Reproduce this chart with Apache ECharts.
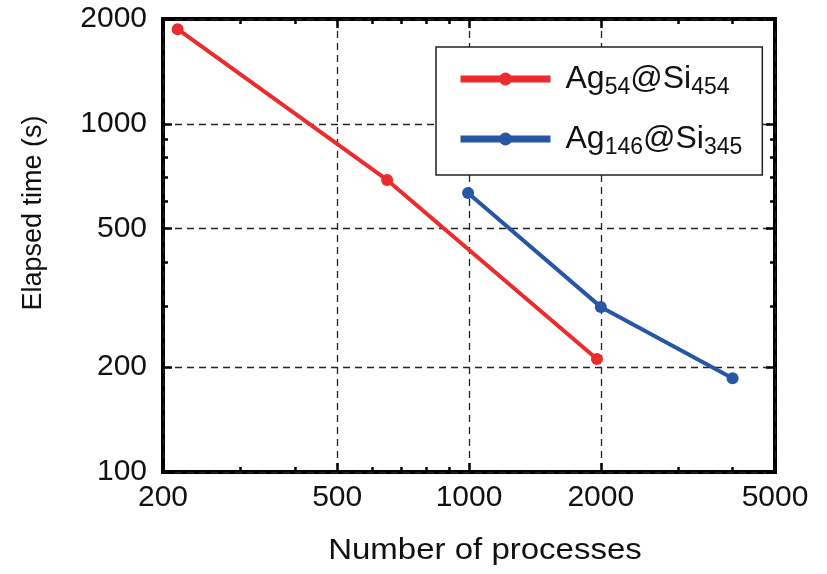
<!DOCTYPE html>
<html>
<head>
<meta charset="utf-8">
<script src="https://cdn.jsdelivr.net/npm/echarts@6/dist/echarts.min.js"></script>
<style>
  html, body { margin: 0; padding: 0; background: #fff; }
  #chart { width: 827px; height: 574px; }
</style>
</head>
<body>
<div id="chart"></div>
<script>
// 数据：横轴为进程数，纵轴为耗时(s)
var procsAg54 = [216, 650, 1960];
var timeAg54 = [1870, 690, 211];
var procsAg146 = [995, 2000, 4000];
var timeAg146 = [633, 298, 186];

// 刻度
var xMajor = [200, 500, 1000, 2000, 5000];
var xMinor = [300, 400, 600, 700, 800, 900, 3000, 4000];
var yMajor = [100, 200, 500, 1000, 2000];
var yMinor = [300, 400, 600, 700, 800, 900];

var RED = '#ec2b2e';
var BLUE = '#2756a5';
var FONT = '"Liberation Sans", Arial, sans-serif';

function pairs(xs, ys) {
    var out = [];
    for (var i = 0; i < xs.length; i++) {
        out.push([xs[i], ys[i]]);
    }
    return out;
}

// 生成一根对数轴；major为true时带标签和网格线
function logAxis(min, max, pos, ticks, major, showLabel) {
    return {
        type: 'log',
        logBase: 10,
        min: min,
        max: max,
        position: pos,
        axisLine: { show: false },
        axisTick: {
            show: true,
            inside: true,
            length: major ? 9 : 5,
            customValues: ticks,
            lineStyle: { color: '#000', width: 2.5 }
        },
        axisLabel: {
            show: showLabel,
            customValues: ticks,
            color: '#111',
            fontFamily: FONT,
            fontSize: 30,
            margin: pos === 'bottom' ? 11 : 16,
            formatter: function(v) { return String(Math.round(v)); }
        },
        splitLine: {
            show: major && showLabel,
            lineStyle: { color: '#222', type: [7, 5], width: 1.3 }
        },
        minorTick: { show: false },
        minorSplitLine: { show: false }
    };
}

var richLegend = {
    a: { fontSize: 32, fontFamily: FONT, color: '#111' },
    s: { fontSize: 23, fontFamily: FONT, color: '#111', padding: [17, 0, 0, 0] }
};

var myChart = echarts.init(document.getElementById('chart'));
var option = {
    animation: false,
    grid: {
        left: 163,
        right: 52,
        top: 19,
        bottom: 102,
        show: true,
        borderColor: '#000',
        borderWidth: 4,
        backgroundColor: 'transparent'
    },
    xAxis: [
        logAxis(200, 5000, 'bottom', xMajor, true, true),
        logAxis(200, 5000, 'bottom', xMinor, false, false),
        logAxis(200, 5000, 'top', xMajor, true, false),
        logAxis(200, 5000, 'top', xMinor, false, false)
    ],
    yAxis: [
        logAxis(100, 2000, 'left', yMajor, true, true),
        logAxis(100, 2000, 'left', yMinor, false, false),
        logAxis(100, 2000, 'right', yMajor, true, false),
        logAxis(100, 2000, 'right', yMinor, false, false)
    ],
    legend: {
        orient: 'vertical',
        left: 436,
        top: 47,
        padding: [16, 20, 16, 21],
        itemGap: 24,
        itemWidth: 90,
        itemHeight: 16,
        borderColor: '#222',
        borderWidth: 1.5,
        backgroundColor: '#fff',
        lineStyle: { width: 7 },
        textStyle: { padding: [0, 0, 0, 10], rich: richLegend },
        formatter: function(name) {
            if (name === 'Ag54@Si454') {
                return '{a|Ag}{s|54}{a|@Si}{s|454}';
            }
            return '{a|Ag}{s|146}{a|@Si}{s|345}';
        },
        data: ['Ag54@Si454', 'Ag146@Si345']
    },
    graphic: [
        {
            type: 'text',
            x: 485,
            y: 551,
            scaleX: 1.1,
            style: {
                text: 'Number of processes',
                fontFamily: FONT,
                fontSize: 30,
                fill: '#111',
                align: 'center',
                verticalAlign: 'middle'
            }
        },
        {
            type: 'text',
            x: 34,
            y: 213,
            rotation: Math.PI / 2,
            style: {
                text: 'Elapsed time (s)',
                fontFamily: FONT,
                fontSize: 27,
                fill: '#111',
                align: 'center',
                verticalAlign: 'middle'
            }
        }
    ],
    series: [
        {
            name: 'Ag54@Si454',
            type: 'line',
            xAxisIndex: 0,
            yAxisIndex: 0,
            data: pairs(procsAg54, timeAg54),
            symbol: 'circle',
            symbolSize: 12,
            color: RED,
            lineStyle: { color: RED, width: 4 },
            z: 5
        },
        {
            name: 'Ag146@Si345',
            type: 'line',
            xAxisIndex: 0,
            yAxisIndex: 0,
            data: pairs(procsAg146, timeAg146),
            symbol: 'circle',
            symbolSize: 12,
            color: BLUE,
            lineStyle: { color: BLUE, width: 4 },
            z: 5
        }
    ]
};
myChart.setOption(option);
</script>
</body>
</html>
